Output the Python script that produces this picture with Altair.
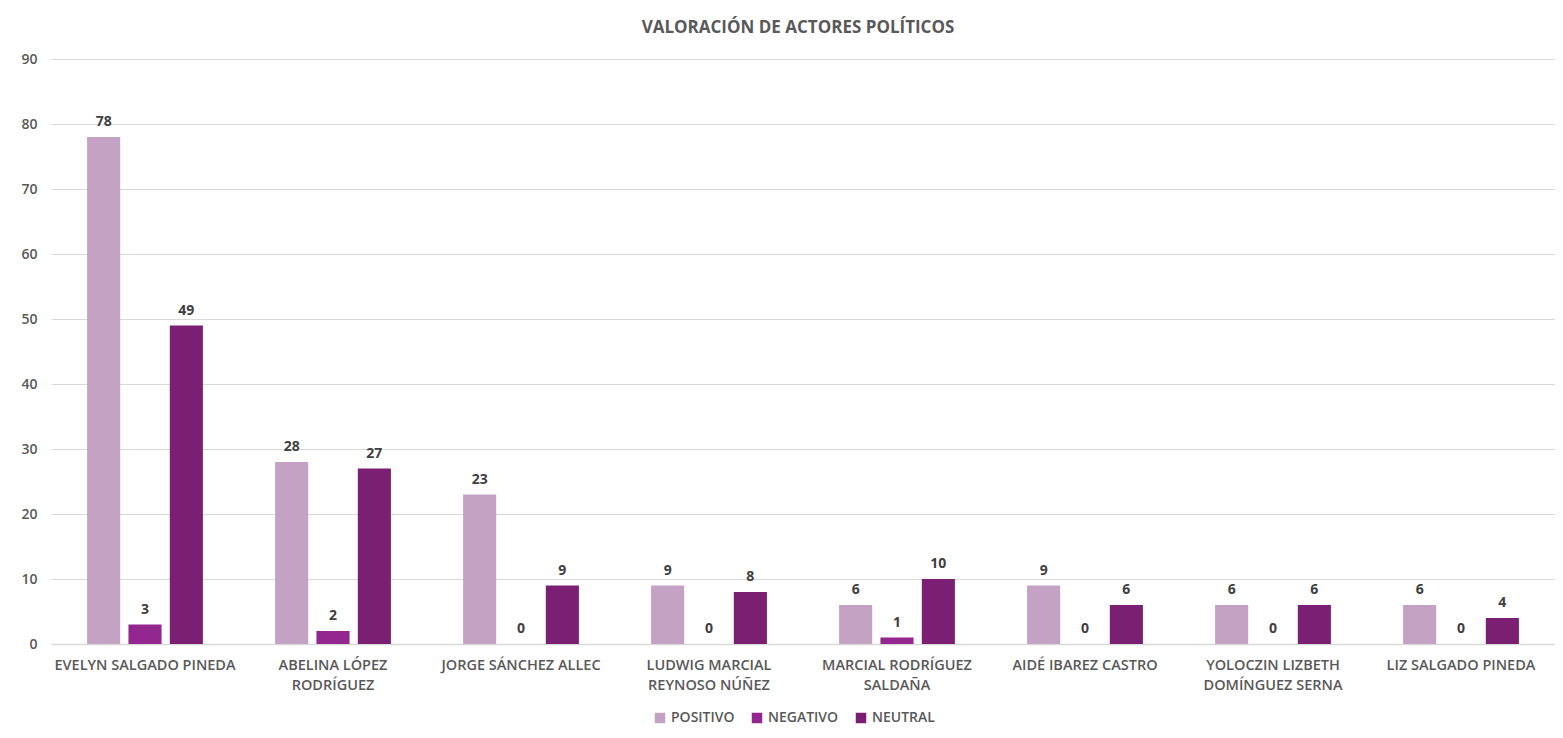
import altair as alt
import pandas as pd

actors = [
    "EVELYN SALGADO PINEDA",
    "ABELINA LÓPEZ\nRODRÍGUEZ",
    "JORGE SÁNCHEZ ALLEC",
    "LUDWIG MARCIAL\nREYNOSO NÚÑEZ",
    "MARCIAL RODRÍGUEZ\nSALDAÑA",
    "AIDÉ IBAREZ CASTRO",
    "YOLOCZIN LIZBETH\nDOMÍNGUEZ SERNA",
    "LIZ SALGADO PINEDA",
]
series = ["POSITIVO", "NEGATIVO", "NEUTRAL"]
positivo = [78, 28, 23, 9, 6, 9, 6, 6]
negativo = [3, 2, 0, 0, 1, 0, 0, 0]
neutral = [49, 27, 9, 8, 10, 6, 6, 4]
colors = ["#C4A2C4", "#93278F", "#7B1F73"]

rows = []
for i, a in enumerate(actors):
    for s, vals in zip(series, [positivo, negativo, neutral]):
        rows.append({"actor": a, "serie": s, "valor": vals[i]})
df = pd.DataFrame(rows)

FONT = "Open Sans"
GRAY = "#595959"

x = alt.X("actor:N", sort=actors, title=None,
          scale=alt.Scale(paddingInner=0.384, paddingOuter=0.192),
          axis=alt.Axis(labelAngle=0, labelExpr="split(datum.label, '\\n')",
                        labelFontSize=14.5, labelColor=GRAY, labelFont=FONT,
                        labelFontWeight=600, labelPadding=14, labelLineHeight=20,
                        ticks=False, domainColor="#D9D9D9", domainWidth=1.5,
                        grid=False, labelLimit=300))
xo = alt.XOffset("serie:N", sort=series,
                 scale=alt.Scale(paddingInner=0.2, paddingOuter=0))
y = alt.Y("valor:Q", title=None,
          scale=alt.Scale(domain=[0, 90]),
          axis=alt.Axis(values=list(range(0, 91, 10)), labelFontSize=14,
                        labelColor=GRAY, labelFont=FONT, labelFontWeight=600,
                        ticks=False, domain=False, gridColor="#D9D9D9",
                        labelPadding=14))
color = alt.Color("serie:N", sort=series, title=None,
                  scale=alt.Scale(domain=series, range=colors),
                  legend=alt.Legend(orient="none", legendX=602, legendY=652,
                                    direction="horizontal", symbolType="square",
                                    symbolSize=110, labelFontSize=14, labelFont=FONT,
                                    labelColor=GRAY, labelFontWeight=600,
                                    columnPadding=15, symbolStrokeWidth=0))

bars = alt.Chart(df).mark_bar().encode(x=x, xOffset=xo, y=y, color=color)
labels = alt.Chart(df).mark_text(dy=-15, fontSize=14, fontWeight="bold",
                                 color="#404040", font=FONT).encode(
    x=x, xOffset=xo, y=y, text="valor:Q")

chart = (bars + labels).properties(
    width=1504, height=585,
    title=alt.TitleParams("VALORACIÓN DE ACTORES POLÍTICOS", fontSize=17,
                          font=FONT, fontWeight="bold", color=GRAY, offset=15,
                          dx=-5),
    autosize=alt.AutoSizeParams(type="none"),
    padding={"left": 43, "top": 51, "right": 0, "bottom": 86},
).configure_view(stroke=None)

chart.save("out.html", embed_options={"renderer": "svg", "actions": False})
